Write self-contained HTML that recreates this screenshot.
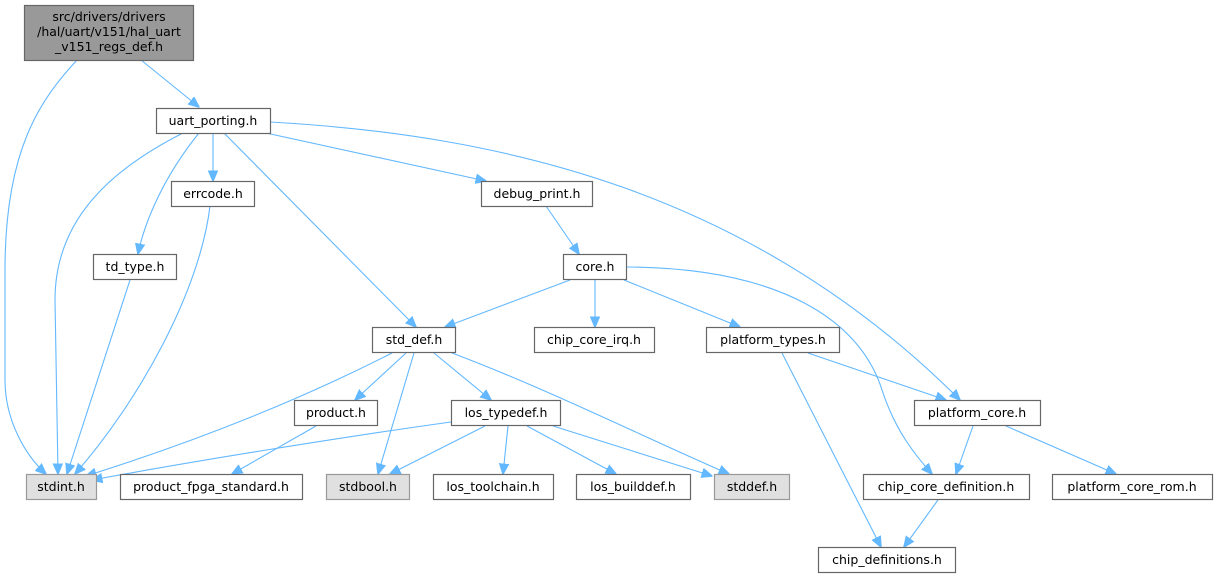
<!DOCTYPE html>
<html><head><meta charset="utf-8"><style>
html,body{margin:0;padding:0;background:#fff;}
svg{display:block;}
text{font-family:"DejaVu Sans","Liberation Sans",sans-serif;font-size:12.5px;fill:#000;}
.n{fill:#fff;stroke:#666;stroke-width:1.2;}
.g{fill:#e0e0e0;stroke:#999;stroke-width:1.2;}
.e{fill:none;stroke:#63b8ff;stroke-width:1.1;marker-end:url(#a);}
</style></head><body>
<svg width="1218" height="579" viewBox="0 0 1218 579" xmlns="http://www.w3.org/2000/svg">
<defs><marker id="a" viewBox="0 0 10 10" refX="9.5" refY="5" markerWidth="11" markerHeight="11" markerUnits="userSpaceOnUse" orient="auto"><path d="M0,0.8 L10,5 L0,9.2 z" fill="#63b8ff" stroke="#63b8ff"/></marker></defs>
<g>
<path class="e" d="M77,60 C40,100 5,150 5,270 L5,380 C5,420 25,455 46,474"/>
<path class="e" d="M141,60 L199,107"/>
<path class="e" d="M183,133 C110,170 55,220 55,300 L58,474"/>
<path class="e" d="M199,133 C165,175 145,220 138,254"/>
<path class="e" d="M213,133 L213,181"/>
<path class="e" d="M224,133 L416,327"/>
<path class="e" d="M266,133 L486,181"/>
<path class="e" d="M270,122 C500,135 750,190 960,400"/>
<path class="e" d="M130,280 L67,474"/>
<path class="e" d="M210,206 C200,290 140,400 75,474"/>
<path class="e" d="M546,206 L579,254"/>
<path class="e" d="M570,280 L445,327"/>
<path class="e" d="M595,280 L595,327"/>
<path class="e" d="M624,280 L740,327"/>
<path class="e" d="M627,267 C780,268 860,320 882,390 C895,430 915,455 932,474"/>
<path class="e" d="M392,353 C300,400 200,440 86,476"/>
<path class="e" d="M406,353 L355,400"/>
<path class="e" d="M414,353 L378,474"/>
<path class="e" d="M434,353 L491,400"/>
<path class="e" d="M452,353 C550,390 650,440 729,474"/>
<path class="e" d="M316,426 L232,474"/>
<path class="e" d="M451,422 C350,436 200,460 92,480"/>
<path class="e" d="M485,426 L390,474"/>
<path class="e" d="M508,426 L503,474"/>
<path class="e" d="M527,426 L616,474"/>
<path class="e" d="M553,426 L712,476"/>
<path class="e" d="M808,353 L946,400"/>
<path class="e" d="M782,353 L881,547"/>
<path class="e" d="M973,426 L956,474"/>
<path class="e" d="M1006,426 L1116,474"/>
<path class="e" d="M938,500 L904,547"/>
</g>
<g>
<rect x="24.5" y="5.5" width="169" height="55" fill="#999" stroke="#666" stroke-width="1.2"/>
<text x="109" y="21" text-anchor="middle">src/drivers/drivers</text>
<text x="109" y="36" text-anchor="middle">/hal/uart/v151/hal_uart</text>
<text x="109" y="51" text-anchor="middle">_v151_regs_def.h</text>

<rect class="n" x="156.5" y="108.5" width="114" height="25"/><text x="213" y="125" text-anchor="middle">uart_porting.h</text>
<rect class="n" x="171.5" y="181.5" width="83" height="25"/><text x="213" y="198" text-anchor="middle">errcode.h</text>
<rect class="n" x="481.5" y="181.5" width="111" height="25"/><text x="537" y="198" text-anchor="middle">debug_print.h</text>
<rect class="n" x="93.5" y="254.5" width="83" height="25"/><text x="135" y="271" text-anchor="middle">td_type.h</text>
<rect class="n" x="563.5" y="254.5" width="63" height="25"/><text x="595" y="271" text-anchor="middle">core.h</text>
<rect class="n" x="372.5" y="327.5" width="83" height="25"/><text x="414" y="344" text-anchor="middle">std_def.h</text>
<rect class="n" x="534.5" y="327.5" width="120" height="25"/><text x="594" y="344" text-anchor="middle">chip_core_irq.h</text>
<rect class="n" x="706.5" y="327.5" width="133" height="25"/><text x="773" y="344" text-anchor="middle">platform_types.h</text>
<rect class="n" x="294.5" y="400.5" width="83" height="25"/><text x="336" y="417" text-anchor="middle">product.h</text>
<rect class="n" x="451.5" y="400.5" width="109" height="25"/><text x="506" y="417" text-anchor="middle">los_typedef.h</text>
<rect class="n" x="914.5" y="400.5" width="126" height="25"/><text x="977" y="417" text-anchor="middle">platform_core.h</text>
<rect class="g" x="26.5" y="474.5" width="70" height="25"/><text x="61" y="491" text-anchor="middle">stdint.h</text>
<rect class="n" x="120.5" y="474.5" width="182" height="25"/><text x="211" y="491" text-anchor="middle">product_fpga_standard.h</text>
<rect class="g" x="326.5" y="474.5" width="83" height="25"/><text x="368" y="491" text-anchor="middle">stdbool.h</text>
<rect class="n" x="433.5" y="474.5" width="120" height="25"/><text x="493" y="491" text-anchor="middle">los_toolchain.h</text>
<rect class="n" x="576.5" y="474.5" width="114" height="25"/><text x="633" y="491" text-anchor="middle">los_builddef.h</text>
<rect class="g" x="714.5" y="474.5" width="75" height="25"/><text x="752" y="491" text-anchor="middle">stddef.h</text>
<rect class="n" x="863.5" y="474.5" width="166" height="25"/><text x="946" y="491" text-anchor="middle">chip_core_definition.h</text>
<rect class="n" x="1052.5" y="474.5" width="160" height="25"/><text x="1132" y="491" text-anchor="middle">platform_core_rom.h</text>
<rect class="n" x="818.5" y="547.5" width="137" height="25"/><text x="887" y="564" text-anchor="middle">chip_definitions.h</text>
</g>
</svg>
</body></html>
